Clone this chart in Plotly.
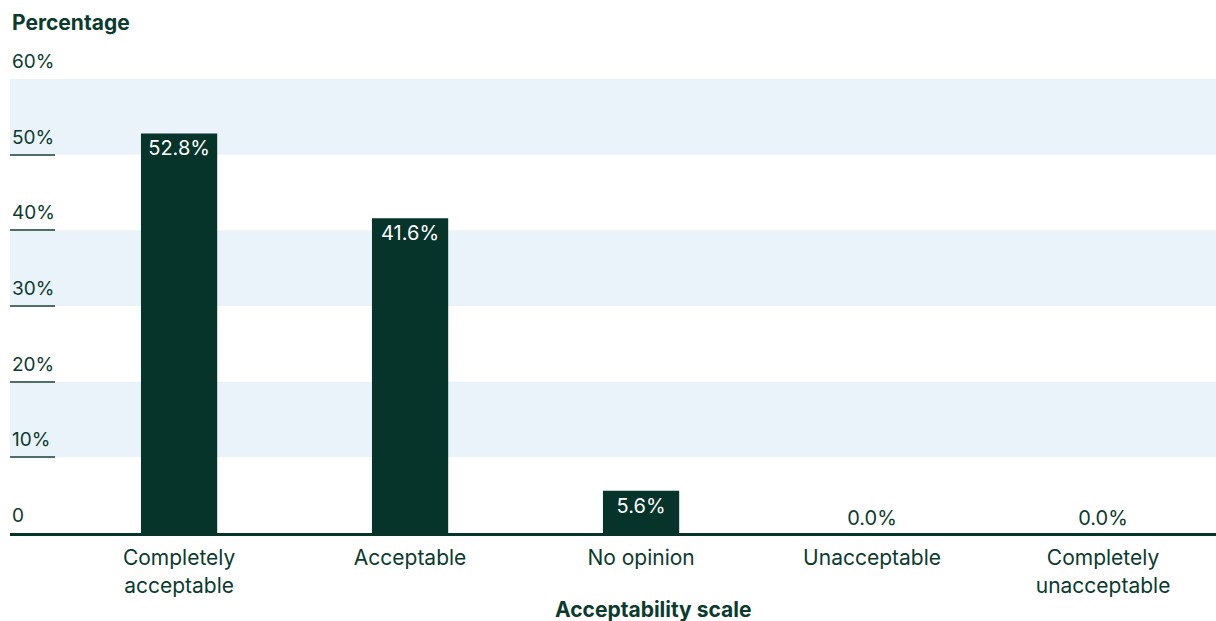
import plotly.graph_objects as go

categories = ["Completely<br>acceptable", "Acceptable", "No opinion", "Unacceptable", "Completely<br>unacceptable"]
values = [52.8, 41.6, 5.6, 0.0, 0.0]
tick_vals = [0, 10, 20, 30, 40, 50, 60]
tick_text = ["0", "10%", "20%", "30%", "40%", "50%", "60%"]

DARK = "#06332A"
TEXT = "#0B3B2E"
BAND = "#EBF3FA"
FONT = "Inter, Lato, sans-serif"

labels = [f"{v:.1f}%" for v in values]
positions = ["inside" if v > 0 else "outside" for v in values]

fig = go.Figure(go.Bar(
    x=list(range(len(categories))),
    y=values,
    text=labels,
    textposition=positions,
    insidetextanchor="end",
    textangle=0,
    constraintext="none",
    insidetextfont=dict(color="white", size=20, family=FONT),
    outsidetextfont=dict(color=TEXT, size=20, family=FONT),
    marker=dict(color=DARK, line=dict(width=0)),
    width=0.33,
    cliponaxis=False,
    hoverinfo="skip",
))

# alternating background bands
shapes = []
for i in range(1, len(tick_vals) - 1, 2):
    shapes.append(dict(type="rect", xref="paper", yref="y", x0=0, x1=1,
                       y0=tick_vals[i], y1=tick_vals[i + 1],
                       fillcolor=BAND, line=dict(width=0), layer="below"))

annotations = [
    dict(text=t, xref="paper", yref="y", x=0, y=v, xanchor="left", yanchor="bottom",
         yshift=4, showarrow=False, font=dict(size=19, color=TEXT, family=FONT))
    for v, t in zip(tick_vals, tick_text)
]
annotations += [
    dict(text="<b>Percentage</b>", xref="paper", yref="paper",
         x=0, y=1, xanchor="left", yanchor="bottom", yshift=42,
         showarrow=False, font=dict(size=21, color=TEXT, family=FONT)),
    dict(text="<b>Acceptability scale</b>", xref="paper", yref="paper",
         x=0.533, y=0, xanchor="center", yanchor="top", yshift=-62,
         showarrow=False, font=dict(size=21, color=TEXT, family=FONT)),
]

fig.update_layout(
    width=1216, height=621,
    margin=dict(l=10, r=0, t=79, b=88, autoexpand=False),
    paper_bgcolor="white", plot_bgcolor="white",
    font=dict(family=FONT, color=TEXT, size=19),
    showlegend=False,
    shapes=shapes,
    annotations=annotations,
    xaxis=dict(
        range=[-0.732, 4.489],
        tickvals=list(range(len(categories))),
        ticktext=categories,
        showgrid=False, zeroline=False,
        showline=True, linecolor=DARK, linewidth=3,
        ticks="", tickfont=dict(size=21, color=TEXT),
        ticklabelstandoff=4,
        automargin=False, fixedrange=True,
    ),
    yaxis=dict(
        range=[0, 60],
        tickvals=tick_vals,
        showticklabels=False,
        ticks="inside", ticklen=45, tickwidth=1.5, tickcolor="#4E6E66",
        showgrid=False, zeroline=False, showline=False,
        automargin=False, fixedrange=True,
    ),
)

fig.write_html("out.html", config={"displayModeBar": False},
               post_script="document.body.style.margin='0';document.body.style.overflow='hidden';")
